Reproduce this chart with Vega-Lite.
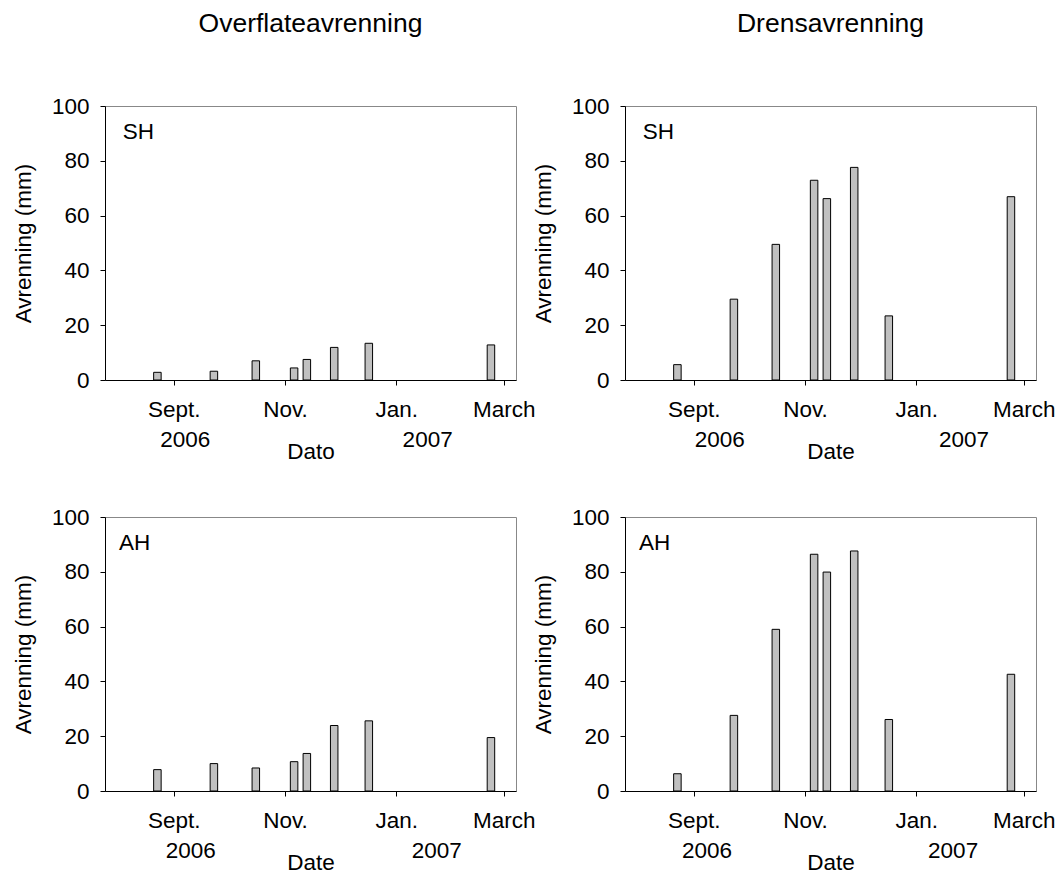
{
  "$schema": "https://vega.github.io/schema/vega-lite/v6.json",
  "padding": {"left": 11, "top": 10, "right": 0, "bottom": 0},
  "background": "white",
  "datasets": {
    "runoff": [
      {"date": "2006-08-23", "type": "Overflateavrenning", "site": "SH", "value": 2.8},
      {"date": "2006-09-23", "type": "Overflateavrenning", "site": "SH", "value": 3.2},
      {"date": "2006-10-16", "type": "Overflateavrenning", "site": "SH", "value": 7.0},
      {"date": "2006-11-06", "type": "Overflateavrenning", "site": "SH", "value": 4.4},
      {"date": "2006-11-13", "type": "Overflateavrenning", "site": "SH", "value": 7.5},
      {"date": "2006-11-28", "type": "Overflateavrenning", "site": "SH", "value": 11.9},
      {"date": "2006-12-17", "type": "Overflateavrenning", "site": "SH", "value": 13.4},
      {"date": "2007-02-22", "type": "Overflateavrenning", "site": "SH", "value": 12.8},
      {"date": "2006-08-23", "type": "Drensavrenning", "site": "SH", "value": 5.6},
      {"date": "2006-09-23", "type": "Drensavrenning", "site": "SH", "value": 29.5},
      {"date": "2006-10-16", "type": "Drensavrenning", "site": "SH", "value": 49.5},
      {"date": "2006-11-06", "type": "Drensavrenning", "site": "SH", "value": 72.9},
      {"date": "2006-11-13", "type": "Drensavrenning", "site": "SH", "value": 66.2},
      {"date": "2006-11-28", "type": "Drensavrenning", "site": "SH", "value": 77.6},
      {"date": "2006-12-17", "type": "Drensavrenning", "site": "SH", "value": 23.4},
      {"date": "2007-02-22", "type": "Drensavrenning", "site": "SH", "value": 66.9},
      {"date": "2006-08-23", "type": "Overflateavrenning", "site": "AH", "value": 7.8},
      {"date": "2006-09-23", "type": "Overflateavrenning", "site": "AH", "value": 10.0},
      {"date": "2006-10-16", "type": "Overflateavrenning", "site": "AH", "value": 8.4},
      {"date": "2006-11-06", "type": "Overflateavrenning", "site": "AH", "value": 10.7},
      {"date": "2006-11-13", "type": "Overflateavrenning", "site": "AH", "value": 13.7},
      {"date": "2006-11-28", "type": "Overflateavrenning", "site": "AH", "value": 23.9},
      {"date": "2006-12-17", "type": "Overflateavrenning", "site": "AH", "value": 25.6},
      {"date": "2007-02-22", "type": "Overflateavrenning", "site": "AH", "value": 19.5},
      {"date": "2006-08-23", "type": "Drensavrenning", "site": "AH", "value": 6.3},
      {"date": "2006-09-23", "type": "Drensavrenning", "site": "AH", "value": 27.6},
      {"date": "2006-10-16", "type": "Drensavrenning", "site": "AH", "value": 59.0},
      {"date": "2006-11-06", "type": "Drensavrenning", "site": "AH", "value": 86.4},
      {"date": "2006-11-13", "type": "Drensavrenning", "site": "AH", "value": 79.9},
      {"date": "2006-11-28", "type": "Drensavrenning", "site": "AH", "value": 87.6},
      {"date": "2006-12-17", "type": "Drensavrenning", "site": "AH", "value": 26.1},
      {"date": "2007-02-22", "type": "Drensavrenning", "site": "AH", "value": 42.6}
    ]
  },
  "columns": 2,
  "spacing": {"row": 137, "column": 109},
  "bounds": "flush",
  "concat": [
    {
      "width": 411, "height": 274,
      "title": {"text": "Overflateavrenning", "fontSize": 26.5, "fontWeight": "normal", "anchor": "middle", "frame": "group", "baseline": "alphabetic", "offset": 37, "color": "black"},
      "layer": [
        {
          "data": {"name": "runoff"},
          "transform": [{"filter": "datum.type == 'Overflateavrenning' && datum.site == 'SH'"}],
          "mark": {"type": "bar", "size": 7.5, "fill": "#c0c0c0", "stroke": "black", "strokeWidth": 1},
          "encoding": {
            "x": {"field": "date", "type": "temporal", "scale": {"type": "utc", "domain": [{"year": 2006, "month": 7, "date": 28, "utc": true}, {"year": 2007, "month": 3, "date": 5, "utc": true}]},
              "axis": {"title": "Dato", "values": [{"year": 2006, "month": 9, "date": 1, "utc": true}, {"year": 2006, "month": 11, "date": 1, "utc": true}, {"year": 2007, "month": 1, "date": 1, "utc": true}, {"year": 2007, "month": 3, "date": 1, "utc": true}], "labelExpr": "utcmonth(datum.value) == 8 ? 'Sept.' : utcmonth(datum.value) == 10 ? 'Nov.' : utcmonth(datum.value) == 0 ? 'Jan.' : 'March'", "tickSize": 5, "labelPadding": 13, "titlePadding": 20}},
            "y": {"field": "value", "type": "quantitative", "scale": {"domain": [0, 100], "nice": false}, "axis": {"title": "Avrenning (mm)", "values": [0, 20, 40, 60, 80, 100], "tickSize": 5, "labelPadding": 11, "titlePadding": 16}}
          }
        },
        {
          "data": {"values": [{"label": "SH"}]},
          "mark": {"type": "text", "align": "left", "baseline": "alphabetic", "fontSize": 22.5, "color": "black"},
          "encoding": {
            "x": {"datum": {"year": 2006, "month": 8, "date": 4, "utc": true}, "type": "temporal", "scale": {"type": "utc", "domain": [{"year": 2006, "month": 7, "date": 28, "utc": true}, {"year": 2007, "month": 3, "date": 5, "utc": true}]},
              "axis": {"orient": "bottom", "title": null, "values": [{"year": 2006, "month": 9, "date": 7, "utc": true}, {"year": 2007, "month": 1, "date": 18, "utc": true}], "labelExpr": "utcFormat(datum.value, '%Y')", "ticks": false, "tickSize": 0, "domain": false, "labelPadding": 48}},
            "y": {"datum": 88, "type": "quantitative", "scale": {"domain": [0, 100], "nice": false}, "axis": {"title": "Avrenning (mm)", "values": [0, 20, 40, 60, 80, 100], "tickSize": 5, "labelPadding": 11, "titlePadding": 16}},
            "text": {"field": "label"}
          }
        }
      ],
      "resolve": {"axis": {"x": "independent"}}
    },
    {
      "width": 411, "height": 274,
      "title": {"text": "Drensavrenning", "fontSize": 26.5, "fontWeight": "normal", "anchor": "middle", "frame": "group", "baseline": "alphabetic", "offset": 37, "color": "black"},
      "layer": [
        {
          "data": {"name": "runoff"},
          "transform": [{"filter": "datum.type == 'Drensavrenning' && datum.site == 'SH'"}],
          "mark": {"type": "bar", "size": 7.5, "fill": "#c0c0c0", "stroke": "black", "strokeWidth": 1},
          "encoding": {
            "x": {"field": "date", "type": "temporal", "scale": {"type": "utc", "domain": [{"year": 2006, "month": 7, "date": 28, "utc": true}, {"year": 2007, "month": 3, "date": 5, "utc": true}]},
              "axis": {"title": "Date", "values": [{"year": 2006, "month": 9, "date": 1, "utc": true}, {"year": 2006, "month": 11, "date": 1, "utc": true}, {"year": 2007, "month": 1, "date": 1, "utc": true}, {"year": 2007, "month": 3, "date": 1, "utc": true}], "labelExpr": "utcmonth(datum.value) == 8 ? 'Sept.' : utcmonth(datum.value) == 10 ? 'Nov.' : utcmonth(datum.value) == 0 ? 'Jan.' : 'March'", "tickSize": 5, "labelPadding": 13, "titlePadding": 20}},
            "y": {"field": "value", "type": "quantitative", "scale": {"domain": [0, 100], "nice": false}, "axis": {"title": "Avrenning (mm)", "values": [0, 20, 40, 60, 80, 100], "tickSize": 5, "labelPadding": 11, "titlePadding": 16}}
          }
        },
        {
          "data": {"values": [{"label": "SH"}]},
          "mark": {"type": "text", "align": "left", "baseline": "alphabetic", "fontSize": 22.5, "color": "black"},
          "encoding": {
            "x": {"datum": {"year": 2006, "month": 8, "date": 4, "utc": true}, "type": "temporal", "scale": {"type": "utc", "domain": [{"year": 2006, "month": 7, "date": 28, "utc": true}, {"year": 2007, "month": 3, "date": 5, "utc": true}]},
              "axis": {"orient": "bottom", "title": null, "values": [{"year": 2006, "month": 9, "date": 15, "utc": true}, {"year": 2007, "month": 1, "date": 27, "utc": true}], "labelExpr": "utcFormat(datum.value, '%Y')", "ticks": false, "tickSize": 0, "domain": false, "labelPadding": 48}},
            "y": {"datum": 88, "type": "quantitative", "scale": {"domain": [0, 100], "nice": false}, "axis": {"title": "Avrenning (mm)", "values": [0, 20, 40, 60, 80, 100], "tickSize": 5, "labelPadding": 11, "titlePadding": 16}},
            "text": {"field": "label"}
          }
        }
      ],
      "resolve": {"axis": {"x": "independent"}}
    },
    {
      "width": 411, "height": 274,
      "layer": [
        {
          "data": {"name": "runoff"},
          "transform": [{"filter": "datum.type == 'Overflateavrenning' && datum.site == 'AH'"}],
          "mark": {"type": "bar", "size": 7.5, "fill": "#c0c0c0", "stroke": "black", "strokeWidth": 1},
          "encoding": {
            "x": {"field": "date", "type": "temporal", "scale": {"type": "utc", "domain": [{"year": 2006, "month": 7, "date": 28, "utc": true}, {"year": 2007, "month": 3, "date": 5, "utc": true}]},
              "axis": {"title": "Date", "values": [{"year": 2006, "month": 9, "date": 1, "utc": true}, {"year": 2006, "month": 11, "date": 1, "utc": true}, {"year": 2007, "month": 1, "date": 1, "utc": true}, {"year": 2007, "month": 3, "date": 1, "utc": true}], "labelExpr": "utcmonth(datum.value) == 8 ? 'Sept.' : utcmonth(datum.value) == 10 ? 'Nov.' : utcmonth(datum.value) == 0 ? 'Jan.' : 'March'", "tickSize": 5, "labelPadding": 13, "titlePadding": 20}},
            "y": {"field": "value", "type": "quantitative", "scale": {"domain": [0, 100], "nice": false}, "axis": {"title": "Avrenning (mm)", "values": [0, 20, 40, 60, 80, 100], "tickSize": 5, "labelPadding": 11, "titlePadding": 16}}
          }
        },
        {
          "data": {"values": [{"label": "AH"}]},
          "mark": {"type": "text", "align": "left", "baseline": "alphabetic", "fontSize": 22.5, "color": "black"},
          "encoding": {
            "x": {"datum": {"year": 2006, "month": 8, "date": 2, "utc": true}, "type": "temporal", "scale": {"type": "utc", "domain": [{"year": 2006, "month": 7, "date": 28, "utc": true}, {"year": 2007, "month": 3, "date": 5, "utc": true}]},
              "axis": {"orient": "bottom", "title": null, "values": [{"year": 2006, "month": 9, "date": 10, "utc": true}, {"year": 2007, "month": 1, "date": 23, "utc": true}], "labelExpr": "utcFormat(datum.value, '%Y')", "ticks": false, "tickSize": 0, "domain": false, "labelPadding": 48}},
            "y": {"datum": 88, "type": "quantitative", "scale": {"domain": [0, 100], "nice": false}, "axis": {"title": "Avrenning (mm)", "values": [0, 20, 40, 60, 80, 100], "tickSize": 5, "labelPadding": 11, "titlePadding": 16}},
            "text": {"field": "label"}
          }
        }
      ],
      "resolve": {"axis": {"x": "independent"}}
    },
    {
      "width": 411, "height": 274,
      "layer": [
        {
          "data": {"name": "runoff"},
          "transform": [{"filter": "datum.type == 'Drensavrenning' && datum.site == 'AH'"}],
          "mark": {"type": "bar", "size": 7.5, "fill": "#c0c0c0", "stroke": "black", "strokeWidth": 1},
          "encoding": {
            "x": {"field": "date", "type": "temporal", "scale": {"type": "utc", "domain": [{"year": 2006, "month": 7, "date": 28, "utc": true}, {"year": 2007, "month": 3, "date": 5, "utc": true}]},
              "axis": {"title": "Date", "values": [{"year": 2006, "month": 9, "date": 1, "utc": true}, {"year": 2006, "month": 11, "date": 1, "utc": true}, {"year": 2007, "month": 1, "date": 1, "utc": true}, {"year": 2007, "month": 3, "date": 1, "utc": true}], "labelExpr": "utcmonth(datum.value) == 8 ? 'Sept.' : utcmonth(datum.value) == 10 ? 'Nov.' : utcmonth(datum.value) == 0 ? 'Jan.' : 'March'", "tickSize": 5, "labelPadding": 13, "titlePadding": 20}},
            "y": {"field": "value", "type": "quantitative", "scale": {"domain": [0, 100], "nice": false}, "axis": {"title": "Avrenning (mm)", "values": [0, 20, 40, 60, 80, 100], "tickSize": 5, "labelPadding": 11, "titlePadding": 16}}
          }
        },
        {
          "data": {"values": [{"label": "AH"}]},
          "mark": {"type": "text", "align": "left", "baseline": "alphabetic", "fontSize": 22.5, "color": "black"},
          "encoding": {
            "x": {"datum": {"year": 2006, "month": 8, "date": 2, "utc": true}, "type": "temporal", "scale": {"type": "utc", "domain": [{"year": 2006, "month": 7, "date": 28, "utc": true}, {"year": 2007, "month": 3, "date": 5, "utc": true}]},
              "axis": {"orient": "bottom", "title": null, "values": [{"year": 2006, "month": 9, "date": 8, "utc": true}, {"year": 2007, "month": 1, "date": 21, "utc": true}], "labelExpr": "utcFormat(datum.value, '%Y')", "ticks": false, "tickSize": 0, "domain": false, "labelPadding": 48}},
            "y": {"datum": 88, "type": "quantitative", "scale": {"domain": [0, 100], "nice": false}, "axis": {"title": "Avrenning (mm)", "values": [0, 20, 40, 60, 80, 100], "tickSize": 5, "labelPadding": 11, "titlePadding": 16}},
            "text": {"field": "label"}
          }
        }
      ],
      "resolve": {"axis": {"x": "independent"}}
    }
  ],
  "config": {
    "font": "Liberation Sans",
    "view": {"stroke": "#888888", "strokeWidth": 1},
    "axis": {
      "grid": false,
      "labelFontSize": 22.5,
      "titleFontSize": 22.5,
      "titleFontWeight": "normal",
      "labelColor": "black",
      "titleColor": "black",
      "domainColor": "black",
      "tickColor": "black",
      "labelFlush": false,
      "labelOverlap": false,
      "labelFont": "Liberation Sans",
      "titleFont": "Liberation Sans"
    },
    "title": {"font": "Liberation Sans"}
  }
}
